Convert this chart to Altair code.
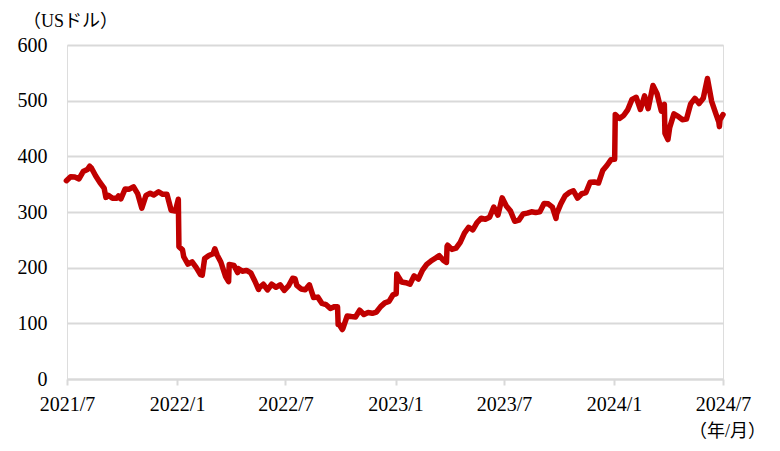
import altair as alt
import pandas as pd

dates = [
    "2021-07-30","2021-08-06","2021-08-13","2021-08-20","2021-08-27","2021-09-03","2021-09-07","2021-09-10",
    "2021-09-17","2021-09-24","2021-10-01","2021-10-04","2021-10-08","2021-10-15","2021-10-22","2021-10-25",
    "2021-10-29","2021-11-05","2021-11-12","2021-11-19","2021-11-26","2021-12-03","2021-12-10","2021-12-17",
    "2021-12-23","2021-12-31",
    "2022-01-07","2022-01-14","2022-01-21","2022-01-28","2022-02-02","2022-02-03","2022-02-09","2022-02-11",
    "2022-02-18","2022-02-25","2022-03-04","2022-03-11","2022-03-14","2022-03-18","2022-03-25","2022-04-01",
    "2022-04-04","2022-04-08","2022-04-14","2022-04-22","2022-04-27","2022-04-28","2022-05-06","2022-05-12",
    "2022-05-13","2022-05-20","2022-05-27","2022-06-03","2022-06-10","2022-06-16","2022-06-17","2022-06-24",
    "2022-07-01","2022-07-08","2022-07-15","2022-07-22","2022-07-28","2022-07-29","2022-08-05","2022-08-12",
    "2022-08-16","2022-08-19","2022-08-26","2022-09-02","2022-09-09","2022-09-16","2022-09-23","2022-09-30",
    "2022-10-07","2022-10-14","2022-10-21","2022-10-26","2022-10-27","2022-10-28","2022-11-03","2022-11-04",
    "2022-11-11","2022-11-18","2022-11-25","2022-12-02","2022-12-09","2022-12-16","2022-12-23","2022-12-30",
    "2023-01-06","2023-01-13","2023-01-20","2023-01-27","2023-02-01","2023-02-02","2023-02-03","2023-02-10",
    "2023-02-17","2023-02-24","2023-03-03","2023-03-10","2023-03-17","2023-03-24","2023-03-31","2023-04-06",
    "2023-04-14","2023-04-21","2023-04-26","2023-04-27","2023-04-28","2023-05-05","2023-05-12","2023-05-19",
    "2023-05-26","2023-06-02","2023-06-09","2023-06-16","2023-06-23","2023-06-30","2023-07-07","2023-07-14",
    "2023-07-21","2023-07-28","2023-08-04","2023-08-11","2023-08-18","2023-08-25","2023-09-01","2023-09-08",
    "2023-09-15","2023-09-22","2023-09-29","2023-10-06","2023-10-13","2023-10-20","2023-10-26","2023-10-27",
    "2023-11-03","2023-11-10","2023-11-17","2023-11-24","2023-12-01","2023-12-08","2023-12-15","2023-12-22",
    "2023-12-29",
    "2024-01-05","2024-01-12","2024-01-19","2024-01-26","2024-02-01","2024-02-02","2024-02-09","2024-02-16",
    "2024-02-23","2024-03-01","2024-03-08","2024-03-15","2024-03-22","2024-03-28","2024-04-05","2024-04-12",
    "2024-04-19","2024-04-24","2024-04-25","2024-04-30","2024-05-03","2024-05-10","2024-05-17","2024-05-24",
    "2024-05-31","2024-06-07","2024-06-14","2024-06-21","2024-06-28","2024-07-05","2024-07-12","2024-07-19",
    "2024-07-24","2024-07-25","2024-07-26","2024-07-31",
]
prices = [
    356.3,363.5,362.7,359.4,372.6,376.3,382.2,378.7,
    364.7,353.0,343.0,326.2,330.1,324.8,324.6,328.7,
    323.6,341.1,340.9,345.3,333.1,306.8,329.8,333.8,
    330.5,336.4,
    331.8,331.9,303.2,301.7,323.0,237.8,232.0,219.6,
    206.2,210.5,200.1,187.6,186.6,216.5,221.8,224.9,
    233.9,222.3,210.2,184.1,175.0,205.7,203.8,191.3,
    198.6,193.5,195.1,190.8,175.6,160.9,163.7,170.2,
    160.0,170.3,164.7,169.3,160.7,159.1,167.1,180.9,
    180.2,168.0,161.8,160.3,169.2,146.3,147.1,135.7,
    133.5,126.8,130.0,129.8,97.9,99.2,88.9,90.8,
    113.0,112.1,111.4,123.5,115.9,119.4,118.0,120.3,
    130.0,136.7,139.4,151.7,153.1,188.8,186.5,174.2,
    173.0,170.4,185.3,179.6,195.6,206.0,211.9,216.1,
    221.5,212.9,209.4,238.6,240.3,232.8,235.0,245.6,
    262.0,272.6,268.0,281.0,288.7,287.0,290.5,308.9,
    294.3,325.5,310.7,301.6,283.3,285.5,296.4,297.9,
    300.3,299.1,300.2,315.4,314.7,308.6,288.4,296.7,
    314.6,328.8,335.0,338.2,324.8,332.8,334.9,353.4,
    354.0,
    352.0,374.5,383.5,394.1,394.8,475.0,468.1,473.3,
    484.0,502.3,506.0,484.1,508.5,485.6,527.3,511.9,
    481.1,493.5,441.4,430.2,452.0,476.2,471.9,465.8,
    466.8,494.3,504.2,494.8,504.2,539.9,498.9,476.8,
    461.3,453.4,465.7,474.8,
]

tick_dates = [(2021, 7), (2022, 1), (2022, 7), (2023, 1), (2023, 7), (2024, 1), (2024, 7)]
month_end = {1: 31, 7: 31}
y_ticks = [0, 100, 200, 300, 400, 500, 600]

df = pd.DataFrame({"date": dates, "price": prices})

FONT = "Liberation Serif, Noto Sans CJK JP"
GRID = "#d9d9d9"

x_values = [alt.DateTime(year=y, month=m, date=month_end[m], utc=True) for y, m in tick_dates]

chart = (
    alt.Chart(df)
    .mark_line(color="#C00000", strokeWidth=5.5, strokeJoin="round", strokeCap="round")
    .encode(
        x=alt.X(
            "date:T",
            scale=alt.Scale(
                type="utc",
                domain=[alt.DateTime(year=2021, month=7, date=31, utc=True),
                        alt.DateTime(year=2024, month=7, date=31, utc=True)],
                nice=False,
            ),
            axis=alt.Axis(
                values=x_values,
                labelExpr="utcFormat(datum.value, '%Y') + '/' + (utcmonth(datum.value) + 1)",
                grid=False,
                domainColor=GRID,
                domainWidth=2,
                tickColor=GRID,
                tickWidth=2,
                tickSize=6,
                labelPadding=9,
                labelFont=FONT,
                labelFontSize=20,
                labelColor="#000000",
                labelFlush=False,
                labelOverlap=False,
                title="（年/月）",
                titleFont=FONT,
                titleFontSize=18,
                titleFontWeight="normal",
                titleColor="#000000",
                titleAngle=0,
                titleAlign="center",
                titleBaseline="alphabetic",
                titleX=660,
                titleY=57,
            ),
        ),
        y=alt.Y(
            "price:Q",
            scale=alt.Scale(domain=[0, 600], nice=False),
            axis=alt.Axis(
                values=y_ticks,
                grid=True,
                gridColor=GRID,
                gridWidth=2,
                domain=False,
                ticks=False,
                labelPadding=20,
                labelFont=FONT,
                labelFontSize=20,
                labelColor="#000000",
                title="（USドル）",
                titleFont=FONT,
                titleFontSize=18,
                titleFontWeight="normal",
                titleColor="#000000",
                titleAngle=0,
                titleAlign="center",
                titleBaseline="alphabetic",
                titleX=3,
                titleY=-19,
            ),
        ),
    )
    .properties(
        width=656,
        height=334,
        autosize=alt.AutoSizeParams(type="none"),
        padding={"left": 59, "top": 37, "right": 49, "bottom": 64},
    )
    .configure_view(stroke=None)
    .configure(background="#ffffff")
)

chart.save("out.html", embed_options={"renderer": "svg", "actions": False})
